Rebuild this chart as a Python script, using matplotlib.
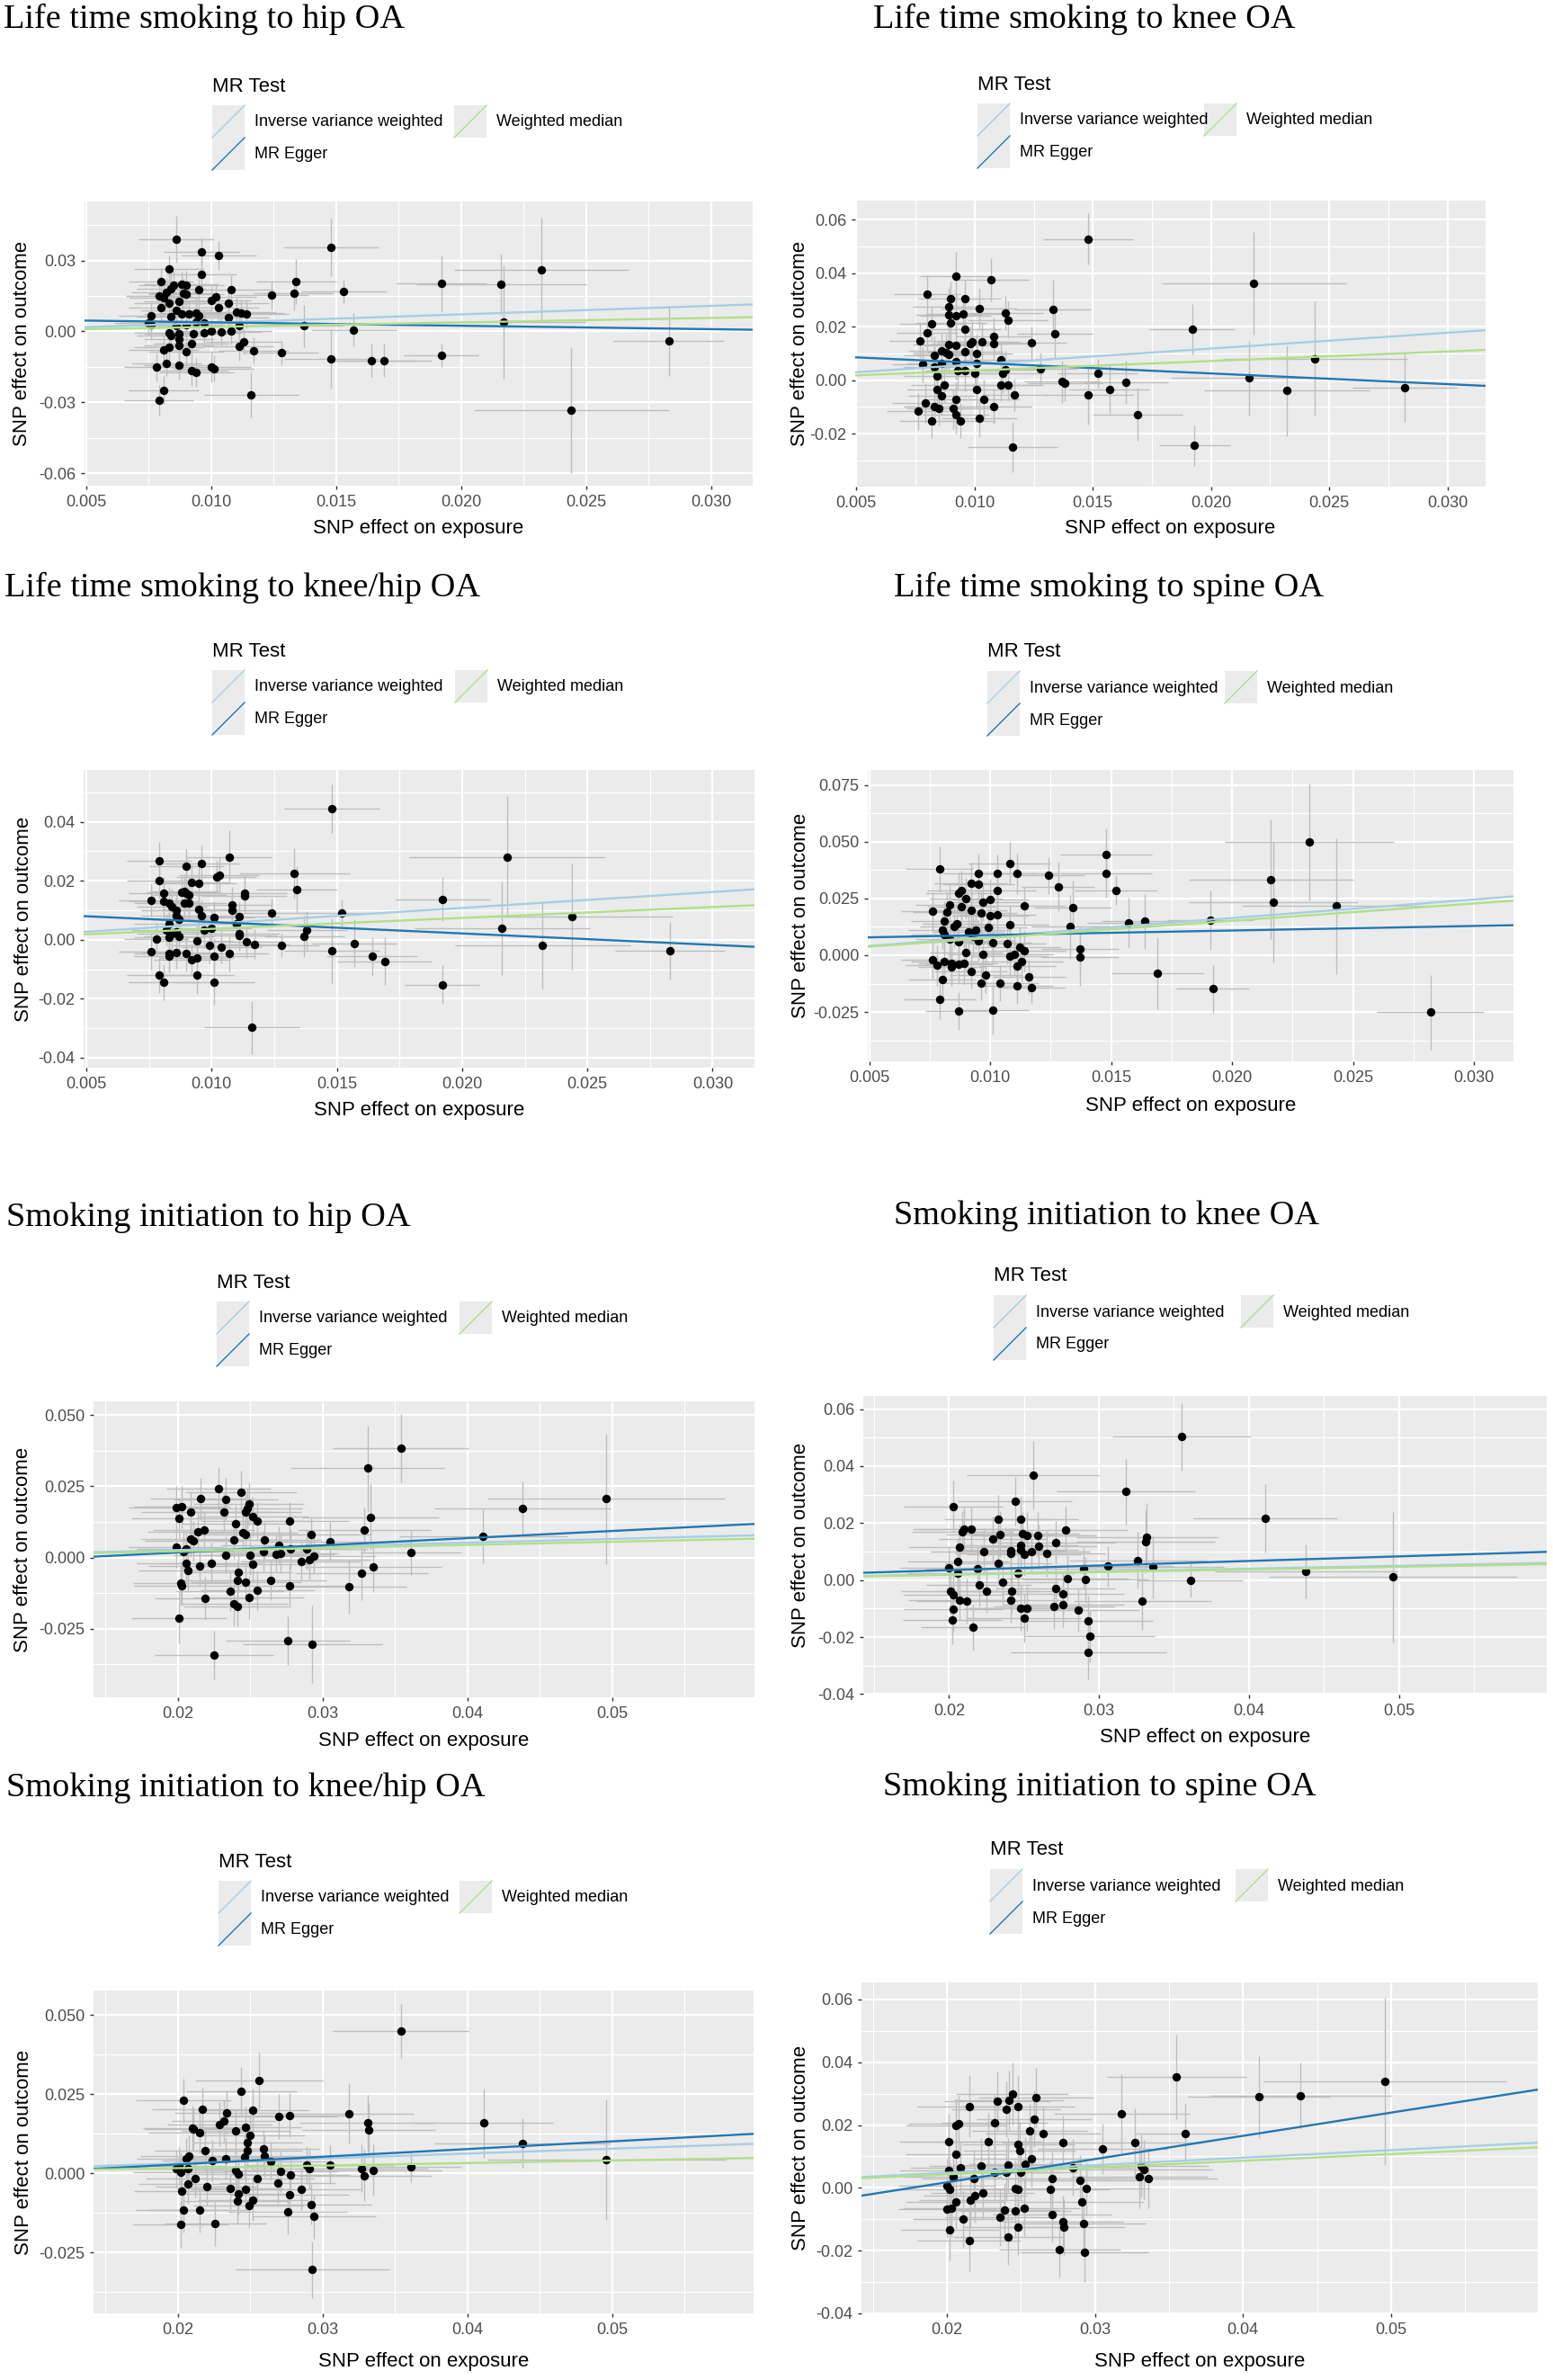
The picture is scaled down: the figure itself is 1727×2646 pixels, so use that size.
import matplotlib
matplotlib.use("Agg")
import matplotlib.pyplot as plt
from matplotlib.patches import Rectangle
from matplotlib.lines import Line2D
from matplotlib.ticker import MultipleLocator

plt.rcParams['font.family'] = ['Liberation Sans', 'DejaVu Sans']

############## DATA : Life time smoking ##############

# hip OA
lt_hip_x = [
    0.0086, 0.0096, 0.0103, 0.0096, 0.0083, 0.0148, 0.0134, 0.0133, 0.0124, 0.0153,
    0.0080, 0.0192, 0.0216, 0.0232, 0.0217, 0.0137, 0.0157, 0.0283, 0.0128, 0.0148,
    0.0164, 0.0169, 0.0192, 0.0244, 0.0116, 0.0081, 0.0079, 0.0078, 0.0082, 0.0087,
    0.0092, 0.0094, 0.0100, 0.0101, 0.0117, 0.0111, 0.0113, 0.0111, 0.0076, 0.0075,
    0.0079, 0.0081, 0.0082, 0.0084, 0.0085, 0.0088, 0.0090, 0.0089, 0.0090, 0.0087,
    0.0083, 0.0080, 0.0084, 0.0086, 0.0088, 0.0091, 0.0094, 0.0095, 0.0095, 0.0100,
    0.0102, 0.0103, 0.0107, 0.0108, 0.0107, 0.0110, 0.0112, 0.0114, 0.0108, 0.0104,
    0.0100, 0.0097, 0.0093, 0.0094, 0.0097, 0.0090, 0.0087, 0.0083, 0.0084, 0.0087,
    0.0092, 0.0087, 0.0083, 0.0081, 0.0090, 0.0076, 0.0086]
lt_hip_y = [
    0.0390, 0.0338, 0.0321, 0.0242, 0.0263, 0.0357, 0.0209, 0.0161, 0.0152, 0.0170,
    0.0209, 0.0203, 0.0199, 0.0261, 0.0039, 0.0023, 0.0006, -0.0039, -0.0091, -0.0115,
    -0.0123, -0.0123, -0.0100, -0.0332, -0.0267, -0.0248, -0.0290, -0.0152, -0.0134, -0.0144,
    -0.0164, -0.0173, -0.0151, -0.0157, -0.0081, -0.0062, -0.0042, 0.0023, 0.0065, 0.0036,
    0.0151, 0.0141, 0.0165, 0.0181, 0.0196, 0.0199, 0.0195, 0.0160, 0.0158, 0.0129,
    0.0119, 0.0100, 0.0064, 0.0090, 0.0073, 0.0075, 0.0078, 0.0065, 0.0177, 0.0131,
    0.0147, 0.0102, 0.0120, 0.0177, 0.0058, 0.0081, 0.0078, 0.0073, 0.0000, -0.0001,
    0.0000, -0.0004, -0.0009, 0.0039, 0.0036, 0.0030, -0.0009, -0.0006, -0.0019, -0.0033,
    -0.0051, -0.0061, -0.0065, -0.0077, -0.0086, 0.0028, 0.0023]
lt_hip_xe = [
    0.0015, 0.0015, 0.0015, 0.0014, 0.0014, 0.0019, 0.0016, 0.0016, 0.0015, 0.0017,
    0.0013, 0.0018, 0.0034, 0.0035, 0.0033, 0.0016, 0.0017, 0.0022, 0.0015, 0.0019,
    0.0018, 0.0019, 0.0015, 0.0039, 0.0019, 0.0014, 0.0014, 0.0013, 0.0014, 0.0014,
    0.0015, 0.0015, 0.0016, 0.0016, 0.0014, 0.0014, 0.0015, 0.0015, 0.0013, 0.0014,
    0.0013, 0.0014, 0.0014, 0.0014, 0.0014, 0.0015, 0.0015, 0.0014, 0.0015, 0.0014,
    0.0014, 0.0013, 0.0014, 0.0014, 0.0015, 0.0015, 0.0015, 0.0015, 0.0015, 0.0016,
    0.0016, 0.0016, 0.0016, 0.0017, 0.0016, 0.0016, 0.0017, 0.0017, 0.0016, 0.0016,
    0.0016, 0.0015, 0.0015, 0.0015, 0.0015, 0.0015, 0.0014, 0.0014, 0.0014, 0.0014,
    0.0015, 0.0014, 0.0014, 0.0014, 0.0015, 0.0013, 0.0014]
lt_hip_ye = [
    0.0098, 0.0060, 0.0062, 0.0060, 0.0058, 0.0123, 0.0095, 0.0070, 0.0060, 0.0050,
    0.0060, 0.0118, 0.0130, 0.0220, 0.0240, 0.0090, 0.0070, 0.0148, 0.0050, 0.0125,
    0.0070, 0.0070, 0.0050, 0.0265, 0.0095, 0.0060, 0.0065, 0.0060, 0.0055, 0.0060,
    0.0065, 0.0060, 0.0065, 0.0055, 0.0055, 0.0060, 0.0055, 0.0050, 0.0060, 0.0055,
    0.0060, 0.0055, 0.0060, 0.0065, 0.0060, 0.0055, 0.0060, 0.0065, 0.0055, 0.0060,
    0.0055, 0.0060, 0.0055, 0.0060, 0.0065, 0.0055, 0.0060, 0.0055, 0.0065, 0.0060,
    0.0055, 0.0060, 0.0055, 0.0060, 0.0055, 0.0060, 0.0055, 0.0060, 0.0055, 0.0060,
    0.0055, 0.0060, 0.0055, 0.0060, 0.0055, 0.0060, 0.0055, 0.0060, 0.0055, 0.0060,
    0.0055, 0.0060, 0.0055, 0.0060, 0.0055, 0.0060, 0.0055]

# knee OA
lt_knee_x = [
    0.0148, 0.0218, 0.0192, 0.0244, 0.0216, 0.0232, 0.0282, 0.0193, 0.0169, 0.0164,
    0.0157, 0.0152, 0.0148, 0.0137, 0.0138, 0.0128, 0.0134, 0.0133, 0.0124, 0.0117,
    0.0114, 0.0116, 0.0111, 0.0107, 0.0092, 0.0080, 0.0113, 0.0114, 0.0102, 0.0096,
    0.0090, 0.0089, 0.0089, 0.0090, 0.0095, 0.0092, 0.0082, 0.0080, 0.0077, 0.0096,
    0.0108, 0.0108, 0.0103, 0.0099, 0.0098, 0.0101, 0.0111, 0.0112, 0.0113, 0.0078,
    0.0076, 0.0079, 0.0082, 0.0083, 0.0085, 0.0091, 0.0092, 0.0094, 0.0102, 0.0104,
    0.0108, 0.0101, 0.0092, 0.0086, 0.0084, 0.0087, 0.0084, 0.0083, 0.0086, 0.0088,
    0.0086, 0.0089, 0.0083, 0.0092, 0.0093, 0.0096, 0.0096, 0.0100, 0.0101, 0.0092,
    0.0089]
lt_knee_y = [
    0.0528, 0.0363, 0.0191, 0.0080, 0.0008, -0.0039, -0.0027, -0.0245, -0.0128, -0.0009,
    -0.0035, 0.0026, -0.0055, -0.0006, -0.0010, 0.0043, 0.0174, 0.0265, 0.0139, -0.0054,
    -0.0019, -0.0250, -0.0017, 0.0375, 0.0389, 0.0322, 0.0251, 0.0225, 0.0267, 0.0304,
    0.0303, 0.0274, 0.0244, 0.0215, 0.0249, 0.0242, 0.0211, 0.0178, 0.0148, 0.0191,
    0.0165, 0.0138, 0.0143, 0.0144, 0.0138, 0.0099, 0.0075, 0.0027, 0.0040, 0.0058,
    -0.0117, -0.0086, -0.0152, -0.0099, -0.0106, -0.0107, -0.0128, -0.0152, -0.0144, -0.0073,
    -0.0099, -0.0035, -0.0073, -0.0058, -0.0035, -0.0019, 0.0014, 0.0048, 0.0062, 0.0104,
    0.0110, 0.0097, 0.0094, 0.0068, 0.0036, 0.0035, 0.0107, 0.0027, 0.0061, 0.0131,
    0.0133]
lt_knee_xe = [
    0.0019, 0.0039, 0.0018, 0.0039, 0.0033, 0.0035, 0.0022, 0.0015, 0.0019, 0.0018,
    0.0017, 0.0017, 0.0019, 0.0016, 0.0016, 0.0015, 0.0016, 0.0016, 0.0015, 0.0014,
    0.0015, 0.0019, 0.0015, 0.0016, 0.0015, 0.0014, 0.0016, 0.0017, 0.0016, 0.0015,
    0.0014, 0.0015, 0.0014, 0.0015, 0.0016, 0.0015, 0.0014, 0.0013, 0.0013, 0.0015,
    0.0016, 0.0017, 0.0016, 0.0015, 0.0016, 0.0015, 0.0016, 0.0017, 0.0016, 0.0013,
    0.0013, 0.0014, 0.0014, 0.0013, 0.0014, 0.0015, 0.0014, 0.0015, 0.0016, 0.0015,
    0.0016, 0.0015, 0.0014, 0.0014, 0.0013, 0.0014, 0.0014, 0.0013, 0.0015, 0.0014,
    0.0014, 0.0015, 0.0013, 0.0015, 0.0014, 0.0015, 0.0016, 0.0015, 0.0016, 0.0014,
    0.0015]
lt_knee_ye = [
    0.0097, 0.0192, 0.0095, 0.0213, 0.0140, 0.0170, 0.0130, 0.0075, 0.0100, 0.0080,
    0.0090, 0.0055, 0.0110, 0.0080, 0.0070, 0.0060, 0.0090, 0.0110, 0.0060, 0.0060,
    0.0055, 0.0095, 0.0060, 0.0080, 0.0090, 0.0070, 0.0065, 0.0070, 0.0075, 0.0070,
    0.0065, 0.0070, 0.0075, 0.0065, 0.0070, 0.0075, 0.0065, 0.0070, 0.0065, 0.0075,
    0.0070, 0.0065, 0.0070, 0.0075, 0.0065, 0.0070, 0.0065, 0.0075, 0.0070, 0.0065,
    0.0070, 0.0075, 0.0065, 0.0070, 0.0065, 0.0075, 0.0070, 0.0065, 0.0070, 0.0075,
    0.0065, 0.0070, 0.0065, 0.0075, 0.0070, 0.0065, 0.0070, 0.0075, 0.0065, 0.0070,
    0.0065, 0.0075, 0.0070, 0.0065, 0.0070, 0.0075, 0.0065, 0.0070, 0.0065, 0.0075,
    0.0070]

# knee/hip OA
lt_kh_x = [
    0.0148, 0.0218, 0.0107, 0.0133, 0.0134, 0.0152, 0.0124, 0.0192, 0.0244, 0.0216,
    0.0232, 0.0283, 0.0192, 0.0169, 0.0164, 0.0157, 0.0148, 0.0138, 0.0137, 0.0128,
    0.0116, 0.0117, 0.0114, 0.0111, 0.0111, 0.0111, 0.0110, 0.0108, 0.0108, 0.0113,
    0.0113, 0.0107, 0.0104, 0.0101, 0.0101, 0.0103, 0.0102, 0.0100, 0.0101, 0.0099,
    0.0096, 0.0095, 0.0092, 0.0090, 0.0089, 0.0090, 0.0091, 0.0088, 0.0091, 0.0089,
    0.0095, 0.0096, 0.0097, 0.0094, 0.0094, 0.0092, 0.0090, 0.0086, 0.0083, 0.0083,
    0.0094, 0.0079, 0.0081, 0.0078, 0.0076, 0.0076, 0.0079, 0.0079, 0.0081, 0.0081,
    0.0083, 0.0084, 0.0086, 0.0086, 0.0087, 0.0083, 0.0082, 0.0084, 0.0086, 0.0087,
    0.0083]
lt_kh_y = [
    0.0445, 0.0281, 0.0281, 0.0225, 0.0171, 0.0091, 0.0091, 0.0138, 0.0078, 0.0039,
    -0.0020, -0.0037, -0.0152, -0.0073, -0.0057, -0.0012, -0.0037, 0.0032, 0.0012, -0.0020,
    -0.0298, -0.0015, -0.0006, 0.0014, 0.0022, 0.0078, 0.0055, 0.0119, 0.0101, 0.0159,
    0.0150, -0.0048, -0.0025, -0.0055, -0.0144, 0.0219, 0.0212, 0.0039, 0.0076, -0.0020,
    0.0260, 0.0191, 0.0195, 0.0251, 0.0163, 0.0159, 0.0153, 0.0160, 0.0125, 0.0125,
    0.0103, 0.0082, 0.0032, -0.0005, -0.0061, -0.0067, -0.0048, -0.0042, -0.0048, -0.0057,
    -0.0119, -0.0120, -0.0144, 0.0002, -0.0040, 0.0134, 0.0202, 0.0267, 0.0159, 0.0130,
    0.0125, 0.0113, 0.0101, 0.0082, 0.0070, 0.0055, 0.0032, 0.0020, 0.0026, 0.0010,
    0.0007]
lt_kh_xe = [
    0.0019, 0.0039, 0.0017, 0.0022, 0.0016, 0.0017, 0.0015, 0.0019, 0.0040, 0.0035,
    0.0035, 0.0022, 0.0015, 0.0019, 0.0018, 0.0017, 0.0019, 0.0016, 0.0016, 0.0015,
    0.0019, 0.0014, 0.0015, 0.0015, 0.0016, 0.0016, 0.0016, 0.0016, 0.0016, 0.0017,
    0.0017, 0.0016, 0.0016, 0.0016, 0.0016, 0.0016, 0.0016, 0.0016, 0.0016, 0.0015,
    0.0015, 0.0015, 0.0015, 0.0015, 0.0014, 0.0015, 0.0015, 0.0014, 0.0015, 0.0014,
    0.0015, 0.0015, 0.0015, 0.0015, 0.0015, 0.0015, 0.0015, 0.0014, 0.0014, 0.0014,
    0.0015, 0.0013, 0.0014, 0.0013, 0.0013, 0.0013, 0.0013, 0.0013, 0.0014, 0.0014,
    0.0014, 0.0014, 0.0014, 0.0014, 0.0014, 0.0014, 0.0014, 0.0014, 0.0014, 0.0014,
    0.0014]
lt_kh_ye = [
    0.0082, 0.0205, 0.0090, 0.0085, 0.0080, 0.0045, 0.0050, 0.0075, 0.0180, 0.0160,
    0.0150, 0.0097, 0.0065, 0.0080, 0.0065, 0.0080, 0.0110, 0.0065, 0.0070, 0.0040,
    0.0090, 0.0050, 0.0055, 0.0050, 0.0055, 0.0050, 0.0055, 0.0060, 0.0055, 0.0060,
    0.0055, 0.0060, 0.0055, 0.0060, 0.0075, 0.0060, 0.0055, 0.0060, 0.0055, 0.0060,
    0.0060, 0.0055, 0.0060, 0.0055, 0.0060, 0.0055, 0.0060, 0.0055, 0.0060, 0.0055,
    0.0060, 0.0055, 0.0060, 0.0055, 0.0060, 0.0055, 0.0060, 0.0055, 0.0060, 0.0055,
    0.0065, 0.0060, 0.0060, 0.0055, 0.0060, 0.0055, 0.0060, 0.0065, 0.0055, 0.0060,
    0.0055, 0.0060, 0.0055, 0.0060, 0.0055, 0.0060, 0.0055, 0.0060, 0.0055, 0.0060,
    0.0055]

# spine OA
lt_spine_x = [
    0.0232, 0.0148, 0.0148, 0.0216, 0.0217, 0.0243, 0.0191, 0.0157, 0.0164, 0.0152,
    0.0128, 0.0124, 0.0134, 0.0133, 0.0137, 0.0137, 0.0169, 0.0192, 0.0282, 0.0101,
    0.0087, 0.0079, 0.0117, 0.0111, 0.0116, 0.0104, 0.0096, 0.0098, 0.0092, 0.0080,
    0.0108, 0.0111, 0.0103, 0.0095, 0.0095, 0.0092, 0.0079, 0.0103, 0.0100, 0.0097,
    0.0090, 0.0088, 0.0087, 0.0114, 0.0103, 0.0100, 0.0096, 0.0092, 0.0088, 0.0083,
    0.0082, 0.0076, 0.0081, 0.0086, 0.0085, 0.0080, 0.0081, 0.0094, 0.0093, 0.0099,
    0.0108, 0.0091, 0.0083, 0.0087, 0.0095, 0.0101, 0.0107, 0.0112, 0.0114, 0.0110,
    0.0108, 0.0113, 0.0111, 0.0090, 0.0097, 0.0076, 0.0078, 0.0081, 0.0084, 0.0087,
    0.0089, 0.0084]
lt_spine_y = [
    0.0500, 0.0443, 0.0362, 0.0335, 0.0235, 0.0217, 0.0154, 0.0144, 0.0149, 0.0286,
    0.0303, 0.0351, 0.0210, 0.0125, 0.0028, -0.0006, -0.0079, -0.0147, -0.0251, -0.0241,
    -0.0246, -0.0193, -0.0142, -0.0136, -0.0094, -0.0123, -0.0123, -0.0086, -0.0073, -0.0107,
    0.0406, 0.0359, 0.0359, 0.0359, 0.0314, 0.0319, 0.0379, 0.0286, 0.0246, 0.0235,
    0.0251, 0.0286, 0.0273, 0.0217, 0.0178, 0.0173, 0.0186, 0.0197, 0.0214, 0.0223,
    0.0189, 0.0194, 0.0149, 0.0138, 0.0125, 0.0113, 0.0092, 0.0113, 0.0084, 0.0121,
    0.0133, 0.0104, 0.0071, 0.0060, 0.0063, 0.0057, 0.0052, 0.0036, 0.0019, 0.0003,
    -0.0005, -0.0029, -0.0049, 0.0011, 0.0003, -0.0018, -0.0045, -0.0026, -0.0037, -0.0040,
    -0.0037, -0.0050]
lt_spine_xe = [
    0.0035, 0.0019, 0.0019, 0.0034, 0.0035, 0.0039, 0.0018, 0.0017, 0.0018, 0.0017,
    0.0015, 0.0015, 0.0016, 0.0016, 0.0016, 0.0016, 0.0019, 0.0015, 0.0022, 0.0015,
    0.0014, 0.0015, 0.0014, 0.0015, 0.0015, 0.0016, 0.0015, 0.0015, 0.0015, 0.0014,
    0.0017, 0.0017, 0.0016, 0.0015, 0.0015, 0.0015, 0.0014, 0.0016, 0.0016, 0.0015,
    0.0015, 0.0014, 0.0014, 0.0017, 0.0016, 0.0016, 0.0015, 0.0015, 0.0014, 0.0014,
    0.0014, 0.0013, 0.0014, 0.0014, 0.0014, 0.0014, 0.0014, 0.0015, 0.0015, 0.0016,
    0.0016, 0.0015, 0.0014, 0.0014, 0.0015, 0.0016, 0.0016, 0.0017, 0.0017, 0.0016,
    0.0016, 0.0017, 0.0016, 0.0015, 0.0015, 0.0013, 0.0013, 0.0014, 0.0014, 0.0014,
    0.0014, 0.0014]
lt_spine_ye = [
    0.0259, 0.0115, 0.0110, 0.0265, 0.0265, 0.0300, 0.0130, 0.0110, 0.0120, 0.0065,
    0.0110, 0.0080, 0.0120, 0.0140, 0.0100, 0.0130, 0.0160, 0.0105, 0.0165, 0.0110,
    0.0085, 0.0090, 0.0070, 0.0080, 0.0075, 0.0080, 0.0075, 0.0080, 0.0075, 0.0080,
    0.0095, 0.0090, 0.0085, 0.0090, 0.0085, 0.0090, 0.0100, 0.0085, 0.0090, 0.0085,
    0.0090, 0.0085, 0.0090, 0.0085, 0.0090, 0.0085, 0.0090, 0.0085, 0.0090, 0.0085,
    0.0090, 0.0085, 0.0090, 0.0085, 0.0090, 0.0085, 0.0090, 0.0085, 0.0090, 0.0085,
    0.0090, 0.0085, 0.0090, 0.0085, 0.0090, 0.0085, 0.0090, 0.0085, 0.0090, 0.0085,
    0.0090, 0.0085, 0.0090, 0.0085, 0.0090, 0.0085, 0.0090, 0.0085, 0.0090, 0.0085,
    0.0090, 0.0085]

############## DATA : Smoking initiation ##############

# hip OA
si_hip_x = [
    0.0354, 0.0331, 0.0496, 0.0438, 0.0411, 0.0361, 0.0333, 0.0329, 0.0335, 0.0327,
    0.0318, 0.0305, 0.0294, 0.0291, 0.0292, 0.0289, 0.0285, 0.0293, 0.0276, 0.0277,
    0.0277, 0.0278, 0.0270, 0.0271, 0.0268, 0.0264, 0.0260, 0.0259, 0.0255, 0.0252,
    0.0249, 0.0248, 0.0247, 0.0244, 0.0250, 0.0252, 0.0255, 0.0249, 0.0247, 0.0247,
    0.0245, 0.0239, 0.0242, 0.0241, 0.0241, 0.0239, 0.0236, 0.0240, 0.0233, 0.0232,
    0.0233, 0.0228, 0.0225, 0.0223, 0.0219, 0.0218, 0.0216, 0.0215, 0.0214, 0.0211,
    0.0209, 0.0209, 0.0207, 0.0206, 0.0206, 0.0204, 0.0203, 0.0201, 0.0199, 0.0199,
    0.0202, 0.0203, 0.0201]
si_hip_y = [
    0.0383, 0.0313, 0.0206, 0.0172, 0.0074, 0.0016, 0.0141, 0.0096, -0.0032, -0.0055,
    -0.0103, 0.0055, 0.0006, -0.0007, 0.0080, 0.0029, -0.0013, -0.0305, -0.0293, -0.0098,
    0.0128, 0.0029, 0.0044, 0.0015, 0.0012, -0.0079, 0.0061, 0.0022, 0.0128, 0.0144,
    0.0188, 0.0171, 0.0160, 0.0230, 0.0007, -0.0023, -0.0115, -0.0141, -0.0086, 0.0080,
    0.0087, 0.0061, -0.0051, -0.0079, -0.0171, -0.0163, -0.0119, 0.0118, 0.0205, 0.0158,
    0.0009, 0.0242, -0.0342, -0.0019, -0.0143, 0.0096, 0.0206, -0.0029, 0.0091, 0.0059,
    0.0066, 0.0160, -0.0045, -0.0020, 0.0029, 0.0022, 0.0177, 0.0137, 0.0175, 0.0035,
    -0.0090, -0.0100, -0.0212]
si_hip_xe = [
    0.0047, 0.0053, 0.0082, 0.0061, 0.0058, 0.0035, 0.0047, 0.0046, 0.0047, 0.0046,
    0.0040, 0.0044, 0.0043, 0.0042, 0.0042, 0.0042, 0.0041, 0.0048, 0.0043, 0.0041,
    0.0041, 0.0041, 0.0040, 0.0040, 0.0040, 0.0039, 0.0039, 0.0039, 0.0039, 0.0038,
    0.0038, 0.0038, 0.0038, 0.0038, 0.0038, 0.0038, 0.0039, 0.0038, 0.0038, 0.0038,
    0.0038, 0.0037, 0.0037, 0.0037, 0.0037, 0.0037, 0.0037, 0.0037, 0.0036, 0.0036,
    0.0036, 0.0036, 0.0041, 0.0035, 0.0035, 0.0035, 0.0035, 0.0035, 0.0035, 0.0034,
    0.0034, 0.0034, 0.0034, 0.0034, 0.0034, 0.0034, 0.0033, 0.0033, 0.0033, 0.0033,
    0.0033, 0.0033, 0.0033]
si_hip_ye = [
    0.0120, 0.0150, 0.0229, 0.0095, 0.0095, 0.0078, 0.0115, 0.0080, 0.0090, 0.0095,
    0.0095, 0.0070, 0.0065, 0.0070, 0.0065, 0.0070, 0.0065, 0.0135, 0.0085, 0.0070,
    0.0065, 0.0070, 0.0065, 0.0070, 0.0065, 0.0070, 0.0065, 0.0070, 0.0065, 0.0070,
    0.0075, 0.0070, 0.0065, 0.0075, 0.0070, 0.0065, 0.0070, 0.0075, 0.0070, 0.0065,
    0.0070, 0.0065, 0.0070, 0.0065, 0.0070, 0.0075, 0.0070, 0.0065, 0.0075, 0.0070,
    0.0065, 0.0075, 0.0085, 0.0070, 0.0075, 0.0065, 0.0075, 0.0070, 0.0065, 0.0070,
    0.0065, 0.0070, 0.0075, 0.0070, 0.0065, 0.0070, 0.0075, 0.0070, 0.0075, 0.0070,
    0.0075, 0.0070, 0.0090]

# knee OA
si_knee_x = [
    0.0355, 0.0256, 0.0318, 0.0411, 0.0361, 0.0438, 0.0496, 0.0336, 0.0332, 0.0331,
    0.0326, 0.0329, 0.0306, 0.0291, 0.0290, 0.0293, 0.0294, 0.0293, 0.0286, 0.0276,
    0.0276, 0.0279, 0.0278, 0.0271, 0.0270, 0.0271, 0.0265, 0.0260, 0.0259, 0.0255,
    0.0252, 0.0249, 0.0248, 0.0244, 0.0250, 0.0248, 0.0248, 0.0241, 0.0241, 0.0246,
    0.0242, 0.0241, 0.0236, 0.0248, 0.0250, 0.0252, 0.0234, 0.0233, 0.0233, 0.0229,
    0.0225, 0.0223, 0.0220, 0.0219, 0.0215, 0.0216, 0.0210, 0.0209, 0.0207, 0.0206,
    0.0206, 0.0203, 0.0200, 0.0201, 0.0203, 0.0203, 0.0202, 0.0207, 0.0212]
si_knee_y = [
    0.0503, 0.0367, 0.0311, 0.0216, 0.0000, 0.0031, 0.0010, 0.0045, 0.0149, 0.0136,
    0.0069, -0.0074, 0.0048, 0.0001, 0.0041, -0.0144, -0.0198, -0.0253, -0.0105, -0.0086,
    -0.0048, 0.0006, 0.0177, -0.0030, -0.0092, 0.0131, 0.0093, 0.0119, 0.0158, 0.0099,
    0.0158, 0.0164, 0.0213, 0.0276, 0.0090, 0.0106, 0.0123, 0.0102, 0.0093, 0.0024,
    -0.0040, -0.0069, -0.0007, -0.0098, -0.0134, -0.0099, 0.0161, 0.0213, 0.0060, 0.0143,
    -0.0039, 0.0100, -0.0017, 0.0040, 0.0178, -0.0166, 0.0178, 0.0168, 0.0115, 0.0023,
    0.0066, 0.0258, 0.0044, -0.0040, -0.0053, -0.0101, -0.0140, -0.0069, -0.0074]
si_knee_xe = [
    0.0046, 0.0044, 0.0046, 0.0048, 0.0035, 0.0061, 0.0083, 0.0047, 0.0047, 0.0046,
    0.0046, 0.0046, 0.0044, 0.0042, 0.0042, 0.0043, 0.0043, 0.0052, 0.0041, 0.0041,
    0.0041, 0.0041, 0.0041, 0.0040, 0.0040, 0.0040, 0.0039, 0.0039, 0.0039, 0.0039,
    0.0038, 0.0038, 0.0038, 0.0038, 0.0038, 0.0038, 0.0038, 0.0037, 0.0037, 0.0038,
    0.0037, 0.0037, 0.0037, 0.0038, 0.0038, 0.0038, 0.0036, 0.0036, 0.0036, 0.0036,
    0.0035, 0.0035, 0.0035, 0.0035, 0.0035, 0.0035, 0.0034, 0.0034, 0.0034, 0.0034,
    0.0034, 0.0033, 0.0033, 0.0033, 0.0033, 0.0033, 0.0033, 0.0034, 0.0034]
si_knee_ye = [
    0.0118, 0.0120, 0.0115, 0.0120, 0.0060, 0.0095, 0.0230, 0.0110, 0.0120, 0.0110,
    0.0100, 0.0100, 0.0070, 0.0080, 0.0075, 0.0090, 0.0090, 0.0095, 0.0075, 0.0080,
    0.0075, 0.0080, 0.0080, 0.0075, 0.0080, 0.0075, 0.0080, 0.0075, 0.0080, 0.0075,
    0.0080, 0.0075, 0.0080, 0.0085, 0.0075, 0.0080, 0.0075, 0.0080, 0.0075, 0.0080,
    0.0075, 0.0080, 0.0075, 0.0080, 0.0085, 0.0080, 0.0080, 0.0085, 0.0075, 0.0080,
    0.0075, 0.0080, 0.0075, 0.0080, 0.0080, 0.0080, 0.0080, 0.0075, 0.0080, 0.0075,
    0.0080, 0.0090, 0.0075, 0.0080, 0.0075, 0.0080, 0.0085, 0.0075, 0.0080]

# knee/hip OA
si_kh_x = [
    0.0354, 0.0256, 0.0318, 0.0411, 0.0438, 0.0496, 0.0361, 0.0331, 0.0332, 0.0335,
    0.0327, 0.0329, 0.0305, 0.0291, 0.0289, 0.0292, 0.0294, 0.0293, 0.0285, 0.0278,
    0.0277, 0.0277, 0.0276, 0.0271, 0.0270, 0.0269, 0.0264, 0.0260, 0.0259, 0.0255,
    0.0252, 0.0250, 0.0248, 0.0247, 0.0248, 0.0246, 0.0244, 0.0252, 0.0249, 0.0247,
    0.0242, 0.0240, 0.0241, 0.0242, 0.0240, 0.0236, 0.0234, 0.0232, 0.0229, 0.0233,
    0.0226, 0.0224, 0.0220, 0.0219, 0.0217, 0.0215, 0.0215, 0.0212, 0.0211, 0.0210,
    0.0208, 0.0207, 0.0206, 0.0207, 0.0204, 0.0203, 0.0204, 0.0202, 0.0201, 0.0202,
    0.0199]
si_kh_y = [
    0.0449, 0.0292, 0.0188, 0.0158, 0.0095, 0.0042, 0.0021, 0.0158, 0.0137, 0.0010,
    0.0015, -0.0007, 0.0027, 0.0015, 0.0025, -0.0098, -0.0136, -0.0305, -0.0050, -0.0006,
    0.0183, -0.0068, -0.0122, 0.0005, 0.0179, -0.0031, 0.0037, 0.0055, 0.0077, -0.0016,
    0.0198, 0.0119, 0.0096, 0.0146, 0.0071, 0.0052, 0.0260, -0.0085, -0.0103, -0.0050,
    -0.0004, 0.0009, -0.0088, -0.0066, 0.0133, -0.0047, 0.0192, 0.0164, 0.0155, 0.0046,
    -0.0160, 0.0040, -0.0041, 0.0071, 0.0201, 0.0127, -0.0117, -0.0016, 0.0139, 0.0142,
    0.0055, -0.0035, 0.0046, 0.0015, 0.0229, -0.0058, -0.0116, -0.0162, 0.0024, 0.0002,
    0.0015]
si_kh_xe = [
    0.0047, 0.0044, 0.0045, 0.0048, 0.0061, 0.0082, 0.0035, 0.0047, 0.0046, 0.0047,
    0.0046, 0.0046, 0.0044, 0.0042, 0.0042, 0.0042, 0.0043, 0.0053, 0.0041, 0.0041,
    0.0041, 0.0041, 0.0041, 0.0040, 0.0040, 0.0040, 0.0039, 0.0039, 0.0039, 0.0039,
    0.0038, 0.0038, 0.0038, 0.0038, 0.0038, 0.0038, 0.0038, 0.0038, 0.0038, 0.0038,
    0.0037, 0.0037, 0.0037, 0.0037, 0.0037, 0.0037, 0.0036, 0.0036, 0.0036, 0.0036,
    0.0035, 0.0035, 0.0035, 0.0035, 0.0035, 0.0035, 0.0035, 0.0034, 0.0034, 0.0034,
    0.0034, 0.0034, 0.0034, 0.0034, 0.0033, 0.0033, 0.0033, 0.0033, 0.0033, 0.0033,
    0.0033]
si_kh_ye = [
    0.0085, 0.0090, 0.0095, 0.0110, 0.0078, 0.0190, 0.0050, 0.0090, 0.0085, 0.0080,
    0.0075, 0.0080, 0.0060, 0.0065, 0.0060, 0.0065, 0.0070, 0.0090, 0.0065, 0.0060,
    0.0070, 0.0065, 0.0070, 0.0065, 0.0070, 0.0065, 0.0060, 0.0065, 0.0060, 0.0065,
    0.0070, 0.0065, 0.0060, 0.0065, 0.0060, 0.0065, 0.0075, 0.0065, 0.0070, 0.0065,
    0.0060, 0.0065, 0.0070, 0.0065, 0.0070, 0.0065, 0.0070, 0.0065, 0.0070, 0.0065,
    0.0070, 0.0065, 0.0060, 0.0065, 0.0070, 0.0065, 0.0070, 0.0060, 0.0065, 0.0070,
    0.0065, 0.0060, 0.0065, 0.0060, 0.0070, 0.0065, 0.0070, 0.0075, 0.0060, 0.0065,
    0.0060]

# spine OA
si_spine_x = [
    0.0355, 0.0318, 0.0411, 0.0439, 0.0496, 0.0361, 0.0327, 0.0331, 0.0333, 0.0330,
    0.0336, 0.0305, 0.0294, 0.0290, 0.0291, 0.0292, 0.0293, 0.0276, 0.0278, 0.0279,
    0.0278, 0.0285, 0.0271, 0.0270, 0.0271, 0.0265, 0.0260, 0.0259, 0.0256, 0.0257,
    0.0253, 0.0252, 0.0250, 0.0249, 0.0248, 0.0248, 0.0248, 0.0248, 0.0246, 0.0244,
    0.0242, 0.0240, 0.0241, 0.0240, 0.0246, 0.0241, 0.0239, 0.0236, 0.0234, 0.0232,
    0.0232, 0.0228, 0.0224, 0.0223, 0.0219, 0.0218, 0.0216, 0.0215, 0.0215, 0.0211,
    0.0209, 0.0208, 0.0206, 0.0206, 0.0206, 0.0201, 0.0202, 0.0203, 0.0201, 0.0200,
    0.0202, 0.0200, 0.0204]
si_spine_y = [
    0.0353, 0.0236, 0.0289, 0.0293, 0.0339, 0.0173, 0.0144, 0.0069, 0.0059, 0.0035,
    0.0031, 0.0123, -0.0003, 0.0023, -0.0044, -0.0114, -0.0204, -0.0196, -0.0109, -0.0125,
    0.0144, 0.0065, 0.0031, -0.0006, -0.0086, 0.0173, 0.0288, 0.0219, 0.0181, 0.0094,
    0.0075, -0.0065, 0.0050, 0.0119, 0.0138, 0.0260, -0.0125, -0.0006, -0.0003, 0.0300,
    0.0278, 0.0250, 0.0073, 0.0050, -0.0073, -0.0156, -0.0071, -0.0094, 0.0275, 0.0206,
    0.0050, 0.0148, -0.0015, 0.0069, -0.0025, 0.0031, -0.0040, 0.0260, -0.0169, -0.0100,
    0.0063, 0.0203, 0.0200, 0.0106, -0.0044, 0.0146, -0.0135, -0.0066, 0.0054, 0.0006,
    -0.0004, -0.0069, 0.0035]
si_spine_xe = [
    0.0047, 0.0046, 0.0048, 0.0061, 0.0082, 0.0035, 0.0045, 0.0046, 0.0046, 0.0046,
    0.0047, 0.0044, 0.0043, 0.0042, 0.0042, 0.0042, 0.0043, 0.0041, 0.0041, 0.0041,
    0.0041, 0.0041, 0.0040, 0.0040, 0.0040, 0.0039, 0.0039, 0.0039, 0.0039, 0.0039,
    0.0038, 0.0038, 0.0038, 0.0038, 0.0038, 0.0038, 0.0038, 0.0038, 0.0038, 0.0038,
    0.0037, 0.0037, 0.0037, 0.0037, 0.0038, 0.0037, 0.0037, 0.0037, 0.0036, 0.0036,
    0.0036, 0.0036, 0.0035, 0.0035, 0.0035, 0.0035, 0.0035, 0.0035, 0.0035, 0.0034,
    0.0034, 0.0034, 0.0034, 0.0034, 0.0034, 0.0033, 0.0033, 0.0033, 0.0033, 0.0033,
    0.0033, 0.0033, 0.0033]
si_spine_ye = [
    0.0135, 0.0125, 0.0130, 0.0105, 0.0265, 0.0095, 0.0110, 0.0100, 0.0095, 0.0100,
    0.0095, 0.0080, 0.0085, 0.0080, 0.0085, 0.0090, 0.0095, 0.0090, 0.0085, 0.0090,
    0.0085, 0.0090, 0.0085, 0.0090, 0.0085, 0.0090, 0.0095, 0.0090, 0.0085, 0.0090,
    0.0085, 0.0090, 0.0085, 0.0090, 0.0085, 0.0095, 0.0090, 0.0085, 0.0090, 0.0100,
    0.0095, 0.0090, 0.0085, 0.0090, 0.0085, 0.0090, 0.0085, 0.0090, 0.0095, 0.0090,
    0.0085, 0.0090, 0.0085, 0.0090, 0.0085, 0.0090, 0.0085, 0.0100, 0.0095, 0.0090,
    0.0085, 0.0090, 0.0085, 0.0090, 0.0085, 0.0090, 0.0095, 0.0090, 0.0085, 0.0090,
    0.0085, 0.0090, 0.0085]

# MR fits (slope through origin for IVW / WM, Egger with intercept)
panel_titles = ["Life time smoking to hip OA", "Life time smoking to knee OA",
                "Life time smoking to knee/hip OA", "Life time smoking to spine OA",
                "Smoking initiation to hip OA", "Smoking initiation to knee OA",
                "Smoking initiation to knee/hip OA", "Smoking initiation to spine OA"]
ivw_slope = [0.36, 0.59, 0.54, 0.82, 0.13, 0.10, 0.155, 0.24]
wm_slope = [0.19, 0.357, 0.37, 0.76, 0.11, 0.093, 0.08, 0.215]
egger_slope = [-0.145, -0.40, -0.388, 0.20, 0.252, 0.161, 0.243, 0.739]
egger_int = [0.0053, 0.0105, 0.0099, 0.0069, -0.0033, 0.00026, -0.00209, -0.01301]

method_names = ["Inverse variance weighted", "MR Egger", "Weighted median"]
method_cols = ["#A6CEE3", "#1F78B4", "#B2DF8A"]

lt_xticks = [0.005, 0.010, 0.015, 0.020, 0.025, 0.030]
lt_xlabels = ["0.005", "0.010", "0.015", "0.020", "0.025", "0.030"]
si_xticks = [0.02, 0.03, 0.04, 0.05]
si_xlabels = ["0.02", "0.03", "0.04", "0.05"]

############## LAYOUT ##############

W, H = 1727, 2646
fig = plt.figure(figsize=(W / 100, H / 100), dpi=100)
fig.patch.set_facecolor("white")


def fx(px):
    return px / W


def fy(py):
    return 1 - py / H


def draw_panel(i, box, x, y, xe, ye, xlim, ylim, xticks, xlabels, yticks, ylabels,
               xminor, yminor, title_pos, leg_pos, key2_dx, xlab_y, ylab_x):
    l, t, r, b = box
    ax = fig.add_axes([fx(l), fy(b), (r - l) / W, (b - t) / H])
    ax.set_facecolor("#EBEBEB")
    for s in ax.spines.values():
        s.set_visible(False)
    ax.set_xlim(xlim)
    ax.set_ylim(ylim)
    ax.set_xticks(xticks)
    ax.set_xticklabels(xlabels)
    ax.set_yticks(yticks)
    ax.set_yticklabels(ylabels)
    ax.xaxis.set_minor_locator(MultipleLocator(xminor))
    ax.yaxis.set_minor_locator(MultipleLocator(yminor))
    ax.grid(which="major", color="white", lw=1.6)
    ax.grid(which="minor", color="white", lw=0.8)
    ax.set_axisbelow(True)
    ax.tick_params(which="major", length=3, width=1.0, color="#333333",
                   labelsize=13, labelcolor="#4D4D4D", pad=4)
    ax.tick_params(which="minor", length=0)

    ax.errorbar(x, y, xerr=xe, yerr=ye, fmt="none", ecolor="#BEBEBE",
                elinewidth=1.0, capsize=0, zorder=2)
    ax.scatter(x, y, s=46, c="black", linewidths=0, zorder=3)

    ax.axline((0, 0), slope=ivw_slope[i], color=method_cols[0], lw=1.7, zorder=4)
    ax.axline((0, egger_int[i]), slope=egger_slope[i], color=method_cols[1], lw=1.7, zorder=4)
    ax.axline((0, 0), slope=wm_slope[i], color=method_cols[2], lw=1.7, zorder=4)

    # titles and axis labels
    fig.text(fx(title_pos[0]), fy(title_pos[1]), panel_titles[i], fontsize=27.5,
             family=["Liberation Serif", "DejaVu Serif"], va="baseline", ha="left")
    fig.text(fx((l + r) / 2), fy(xlab_y), "SNP effect on exposure", fontsize=16,
             ha="center", va="center")
    fig.text(fx(ylab_x), fy((t + b) / 2), "SNP effect on outcome", fontsize=16,
             ha="center", va="center", rotation=90)

    # legend
    lx, ty = leg_pos
    fig.text(fx(lx), fy(ty), "MR Test", fontsize=16, ha="left", va="center")
    keys = [(lx, ty + 21), (lx, ty + 57), (lx + key2_dx, ty + 21)]
    for (kx, ky), name, col in zip(keys, method_names, method_cols):
        fig.add_artist(Rectangle((fx(kx), fy(ky + 36)), 36 / W, 36 / H,
                                 transform=fig.transFigure, facecolor="#EBEBEB",
                                 edgecolor="none"))
        fig.add_artist(Line2D([fx(kx), fx(kx + 36)], [fy(ky + 36), fy(ky)],
                              transform=fig.transFigure, color=col, lw=1.0))
        fig.text(fx(kx + 47), fy(ky + 19), name, fontsize=13, ha="left", va="center")
    return ax


draw_panel(0, (94, 224, 837, 540), lt_hip_x, lt_hip_y, lt_hip_xe, lt_hip_ye,
           (0.00493, 0.03166), (-0.0652, 0.0549), lt_xticks, lt_xlabels,
           [-0.06, -0.03, 0.0, 0.03], ["-0.06", "-0.03", "0.00", "0.03"],
           0.0025, 0.015, (4, 31), (236, 96), 269, 587, 25)

draw_panel(1, (951, 223, 1652, 541), lt_knee_x, lt_knee_y, lt_knee_xe, lt_knee_ye,
           (0.00495, 0.03161), (-0.0398, 0.0671), lt_xticks, lt_xlabels,
           [-0.02, 0.0, 0.02, 0.04, 0.06], ["-0.02", "0.00", "0.02", "0.04", "0.06"],
           0.0025, 0.01, (971, 31), (1087, 94), 252, 587, 889)

draw_panel(2, (93, 856, 839, 1187), lt_kh_x, lt_kh_y, lt_kh_xe, lt_kh_ye,
           (0.00489, 0.03167), (-0.0434, 0.0576), lt_xticks, lt_xlabels,
           [-0.04, -0.02, 0.0, 0.02, 0.04], ["-0.04", "-0.02", "0.00", "0.02", "0.04"],
           0.0025, 0.01, (5, 663), (236, 724), 270, 1235, 27)

draw_panel(3, (965, 856, 1683, 1180), lt_spine_x, lt_spine_y, lt_spine_xe, lt_spine_ye,
           (0.00493, 0.03164), (-0.0468, 0.0817), lt_xticks, lt_xlabels,
           [-0.025, 0.0, 0.025, 0.05, 0.075], ["-0.025", "0.000", "0.025", "0.050", "0.075"],
           0.0025, 0.0125, (994, 663), (1098, 725), 264, 1229, 890)

draw_panel(4, (104, 1558, 839, 1887), si_hip_x, si_hip_y, si_hip_xe, si_hip_ye,
           (0.01419, 0.05982), (-0.0491, 0.0548), si_xticks, si_xlabels,
           [-0.025, 0.0, 0.025, 0.05], ["-0.025", "0.000", "0.025", "0.050"],
           0.005, 0.0125, (7, 1363), (241, 1426), 270, 1935, 26)

draw_panel(5, (960, 1552, 1720, 1884), si_knee_x, si_knee_y, si_knee_xe, si_knee_ye,
           (0.01428, 0.05986), (-0.0402, 0.0646), si_xticks, si_xlabels,
           [-0.04, -0.02, 0.0, 0.02, 0.04, 0.06],
           ["-0.04", "-0.02", "0.00", "0.02", "0.04", "0.06"],
           0.005, 0.01, (994, 1361), (1105, 1419), 275, 1931, 890)

draw_panel(6, (104, 2213, 838, 2572), si_kh_x, si_kh_y, si_kh_xe, si_kh_ye,
           (0.01419, 0.05975), (-0.0443, 0.0577), si_xticks, si_xlabels,
           [-0.025, 0.0, 0.025, 0.05], ["-0.025", "0.000", "0.025", "0.050"],
           0.005, 0.0125, (7, 1997), (243, 2070), 268, 2625, 27)

draw_panel(7, (958, 2204, 1710, 2572), si_spine_x, si_spine_y, si_spine_xe, si_spine_ye,
           (0.01422, 0.05991), (-0.0397, 0.0654), si_xticks, si_xlabels,
           [-0.04, -0.02, 0.0, 0.02, 0.04, 0.06],
           ["-0.04", "-0.02", "0.00", "0.02", "0.04", "0.06"],
           0.005, 0.01, (982, 1996), (1101, 2057), 273, 2626, 890)

fig.savefig("out.png", dpi=100)
